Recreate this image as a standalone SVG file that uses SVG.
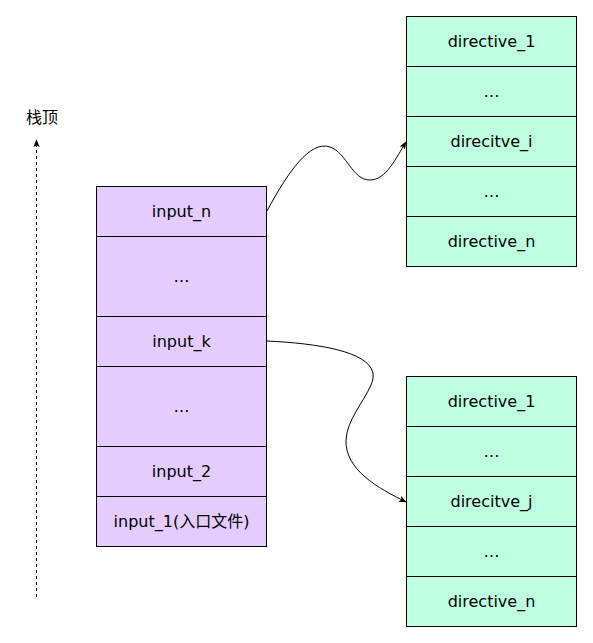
<svg xmlns="http://www.w3.org/2000/svg" width="593" height="643" viewBox="0 0 593 643">
<style>
.l{fill:#E5CCFF;stroke:#000;stroke-width:1}
.r{fill:#BFFFE1;stroke:#000;stroke-width:1}
text{font-family:"DejaVu Sans","Noto Sans CJK SC",sans-serif;font-size:16px;fill:#000;text-anchor:middle;dominant-baseline:central}
.c{fill:none;stroke:#000;stroke-width:1}
</style>
<defs>
<marker id="ah" viewBox="0 0 10 10" refX="9" refY="5" markerWidth="8" markerHeight="8" markerUnits="userSpaceOnUse" orient="auto"><path d="M0,1 L10,5 L0,9 L2.5,5 Z" fill="#000"/></marker>
</defs>
<rect width="593" height="643" fill="#fff"/>
<g id="stack-left">
<g id="input_n"><rect class="l" x="96.5" y="186.5" width="170" height="50"/><text x="181.5" y="211.5">input_n</text></g>
<g id="dots_l1"><rect class="l" x="96.5" y="236.5" width="170" height="80"/><text x="181.5" y="276.5">…</text></g>
<g id="input_k"><rect class="l" x="96.5" y="316.5" width="170" height="50"/><text x="181.5" y="341.5">input_k</text></g>
<g id="dots_l2"><rect class="l" x="96.5" y="366.5" width="170" height="80"/><text x="181.5" y="406.5">…</text></g>
<g id="input_2"><rect class="l" x="96.5" y="446.5" width="170" height="50"/><text x="181.5" y="471.5">input_2</text></g>
<g id="input_1"><rect class="l" x="96.5" y="496.5" width="170" height="50"/><text x="181.5" y="521.5">input_1(入口文件)</text></g>
</g>
<g id="stack-top">
<g id="t1"><rect class="r" x="406.5" y="16.5" width="170" height="50"/><text x="491.5" y="41.5">directive_1</text></g>
<g id="t2"><rect class="r" x="406.5" y="66.5" width="170" height="50"/><text x="491.5" y="91.5">…</text></g>
<g id="t3"><rect class="r" x="406.5" y="116.5" width="170" height="50"/><text x="491.5" y="141.5">direcitve_i</text></g>
<g id="t4"><rect class="r" x="406.5" y="166.5" width="170" height="50"/><text x="491.5" y="191.5">…</text></g>
<g id="t5"><rect class="r" x="406.5" y="216.5" width="170" height="50"/><text x="491.5" y="241.5">directive_n</text></g>
</g>
<g id="stack-bottom">
<g id="b1"><rect class="r" x="406.5" y="376.5" width="170" height="50"/><text x="491.5" y="401.5">directive_1</text></g>
<g id="b2"><rect class="r" x="406.5" y="426.5" width="170" height="50"/><text x="491.5" y="451.5">…</text></g>
<g id="b3"><rect class="r" x="406.5" y="476.5" width="170" height="50"/><text x="491.5" y="501.5">direcitve_j</text></g>
<g id="b4"><rect class="r" x="406.5" y="526.5" width="170" height="50"/><text x="491.5" y="551.5">…</text></g>
<g id="b5"><rect class="r" x="406.5" y="576.5" width="170" height="50"/><text x="491.5" y="601.5">directive_n</text></g>
</g>
<g id="label-top"><text x="42" y="117">栈顶</text></g>
<g id="connectors">
<path class="c" d="M36.5,597 L36.5,140" stroke-dasharray="3 3" marker-end="url(#ah)"/>
<path class="c" d="M267,211 C288,172 310,140 330,147 C347,153 352,180 370,180 C386,180 396,158 406,142" marker-end="url(#ah)"/>
<path class="c" d="M267,341 C330,344 385,355 371,385 C363,403 347,420 346,440 C345,470 378,488 406,502" marker-end="url(#ah)"/>
</g>
</svg>
